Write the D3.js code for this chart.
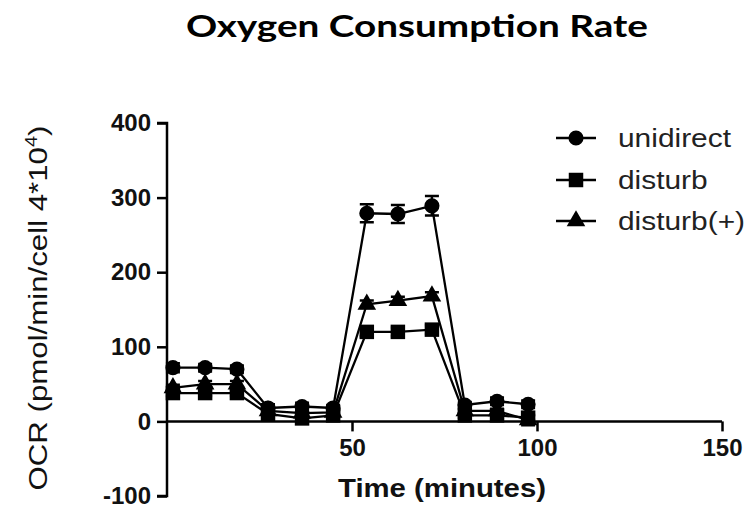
<!DOCTYPE html>
<html><head><meta charset="utf-8">
<script src="https://cdn.jsdelivr.net/npm/d3@7"></script>
<style>body{margin:0;background:#fff}svg{display:block}</style>
</head><body>
<svg id="c" width="752" height="508"></svg>
<script>
const times = [1.6, 10.3, 18.9, 27.3, 36.5, 44.9, 54.0, 62.4, 71.6, 80.5, 89.2, 97.6];
const unidirect = [72, 72, 70, 18, 20, 18, 279, 278, 289, 22, 27, 23];
const unidirectErr = [6, 5, 5, 5, 5, 4, 12, 12, 13, 4, 5, 5];
const disturb = [38, 38, 38, 10, 4, 8, 120, 120, 123, 8, 8, 5];
const disturbErr = [4, 4, 4, 3, 4, 3, 6, 6, 6, 3, 3, 3];
const disturbPlus = [45, 50, 50, 14, 11, 12, 157, 162, 168, 14, 14, 2];
const disturbPlusErr = [4, 4, 4, 3, 3, 3, 5, 5, 5, 3, 3, 7];
const seriesNames = ["unidirect", "disturb", "disturb(+)"];
const yTicks = [-100, 0, 100, 200, 300, 400];
const xTicks = [50, 100, 150];

const svg = d3.select("#c");
const x = d3.scaleLinear().domain([0, 150]).range([167, 722]);
const y = d3.scaleLinear().domain([-100, 400]).range([496, 123]);
const font = "'Liberation Sans', Arial, sans-serif";

const series = [
  {name: seriesNames[0], vals: unidirect, err: unidirectErr, sym: d3.symbolCircle, size: 180},
  {name: seriesNames[1], vals: disturb, err: disturbErr, sym: d3.symbolSquare, size: 210},
  {name: seriesNames[2], vals: disturbPlus, err: disturbPlusErr, sym: d3.symbolTriangle, size: 150}
];

// title
svg.append("text").attr("x", 186).attr("y", 37)
  .attr("font-family", "Lato, 'Open Sans', sans-serif").attr("font-weight", "bold")
  .attr("font-size", 31).attr("textLength", 462).attr("lengthAdjust", "spacingAndGlyphs")
  .text("Oxygen Consumption Rate");

// axes
const yAxis = d3.axisLeft(y).tickValues(yTicks).tickSize(10).tickPadding(6).tickFormat(d => String(d));
const gy = svg.append("g").attr("transform", `translate(${x(0)},0)`).call(yAxis);
gy.select(".domain").attr("stroke-width", 2.5).attr("d", `M-10,${y(400)}H0V${y(-100)}H-10`);
gy.selectAll(".tick line").attr("stroke-width", 2.5);
gy.selectAll(".tick text").attr("font-family", font).attr("font-weight", "bold").attr("font-size", 24).attr("fill", "#111");

const xAxis = d3.axisBottom(x).tickValues(xTicks).tickSize(10).tickPadding(8);
const gx = svg.append("g").attr("transform", `translate(0,${y(0)})`).call(xAxis);
gx.select(".domain").attr("stroke-width", 2.5).attr("d", `M${x(0)},0H${x(150)}`);
gx.selectAll(".tick line").attr("stroke-width", 2.5);
gx.selectAll(".tick text").attr("font-family", font).attr("font-weight", "bold").attr("font-size", 24).attr("fill", "#111");

svg.append("text").attr("x", 442).attr("y", 497).attr("text-anchor", "middle")
  .attr("font-family", font).attr("font-weight", "bold").attr("font-size", 26).attr("fill", "#111")
  .attr("textLength", 208).attr("lengthAdjust", "spacingAndGlyphs")
  .text("Time (minutes)");

const yt = svg.append("text").attr("transform", `translate(47,308) rotate(-90)`).attr("text-anchor", "middle")
  .attr("font-family", font).attr("font-size", 25).attr("fill", "#111")
  .attr("textLength", 365).attr("lengthAdjust", "spacingAndGlyphs");
yt.append("tspan").text("OCR (pmol/min/cell 4*10");
yt.append("tspan").attr("dy", -10).attr("font-size", 16).text("4");
yt.append("tspan").attr("dy", 10).text(")");

// series
const line = d3.line().x((d, i) => x(times[i])).y(d => y(d));
series.forEach(s => {
  const g = svg.append("g");
  g.append("path").attr("d", line(s.vals)).attr("fill", "none").attr("stroke", "#000").attr("stroke-width", 2.3);
  s.vals.forEach((v, i) => {
    const cx = x(times[i]);
    g.append("path").attr("d", `M${cx},${y(v - s.err[i])}V${y(v + s.err[i])}M${cx - 7},${y(v + s.err[i])}H${cx + 7}M${cx - 7},${y(v - s.err[i])}H${cx + 7}`)
      .attr("stroke", "#000").attr("stroke-width", 2.5).attr("fill", "none");
    g.append("path").attr("d", d3.symbol().type(s.sym).size(s.size)()).attr("transform", `translate(${cx},${y(v)})`).attr("fill", "#000");
  });
});

// legend
const legY = [138, 180, 221];
series.forEach((s, i) => {
  const g = svg.append("g").attr("transform", `translate(0,${legY[i]})`);
  g.append("line").attr("x1", 556).attr("x2", 596).attr("stroke", "#000").attr("stroke-width", 2.5);
  g.append("path").attr("d", d3.symbol().type(s.sym).size(s.size)()).attr("transform", `translate(576,0)`).attr("fill", "#000");
  g.append("text").attr("transform", "translate(618,9) scale(1.15,1)").attr("font-family", font).attr("font-size", 26).attr("fill", "#222").text(s.name);
});
</script>
</body></html>
